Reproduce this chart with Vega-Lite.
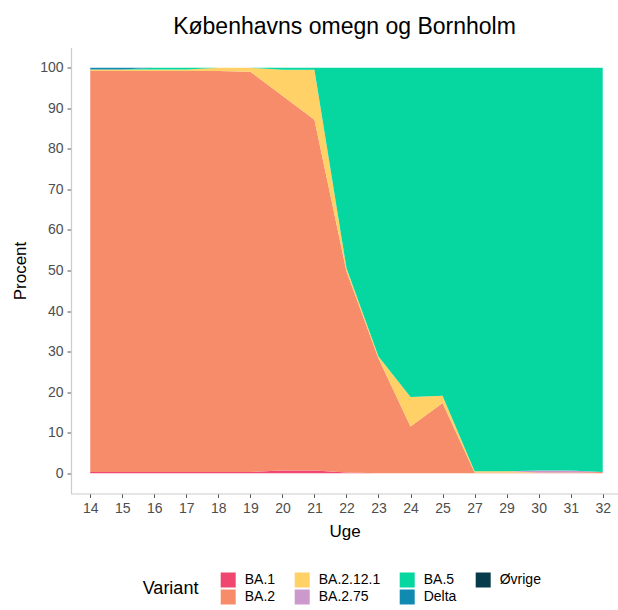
{
  "$schema": "https://vega.github.io/schema/vega-lite/v6.json",
  "width": 547,
  "height": 446,
  "autosize": {"type": "none"},
  "padding": {"left": 71, "top": 47.5, "right": 0, "bottom": 116.5},
  "background": "white",
  "title": {"text": "Københavns omegn og Bornholm", "font": "Liberation Sans", "fontSize": 23, "fontWeight": "normal", "color": "#000000", "anchor": "middle", "offset": 9},
  "data": {"values": [
    {"Uge":14,"Variant":"BA.1","Procent":0.3},{"Uge":14,"Variant":"BA.2","Procent":98.9},{"Uge":14,"Variant":"BA.2.12.1","Procent":0.4},{"Uge":14,"Variant":"BA.2.75","Procent":0},{"Uge":14,"Variant":"BA.5","Procent":0},{"Uge":14,"Variant":"Delta","Procent":0.4},{"Uge":14,"Variant":"Øvrige","Procent":0},
    {"Uge":15,"Variant":"BA.1","Procent":0.3},{"Uge":15,"Variant":"BA.2","Procent":98.9},{"Uge":15,"Variant":"BA.2.12.1","Procent":0.4},{"Uge":15,"Variant":"BA.2.75","Procent":0},{"Uge":15,"Variant":"BA.5","Procent":0},{"Uge":15,"Variant":"Delta","Procent":0.4},{"Uge":15,"Variant":"Øvrige","Procent":0},
    {"Uge":16,"Variant":"BA.1","Procent":0.3},{"Uge":16,"Variant":"BA.2","Procent":98.9},{"Uge":16,"Variant":"BA.2.12.1","Procent":0.4},{"Uge":16,"Variant":"BA.2.75","Procent":0},{"Uge":16,"Variant":"BA.5","Procent":0.4},{"Uge":16,"Variant":"Delta","Procent":0},{"Uge":16,"Variant":"Øvrige","Procent":0},
    {"Uge":17,"Variant":"BA.1","Procent":0.3},{"Uge":17,"Variant":"BA.2","Procent":98.9},{"Uge":17,"Variant":"BA.2.12.1","Procent":0.4},{"Uge":17,"Variant":"BA.2.75","Procent":0},{"Uge":17,"Variant":"BA.5","Procent":0.4},{"Uge":17,"Variant":"Delta","Procent":0},{"Uge":17,"Variant":"Øvrige","Procent":0},
    {"Uge":18,"Variant":"BA.1","Procent":0.3},{"Uge":18,"Variant":"BA.2","Procent":98.9},{"Uge":18,"Variant":"BA.2.12.1","Procent":0.8},{"Uge":18,"Variant":"BA.2.75","Procent":0},{"Uge":18,"Variant":"BA.5","Procent":0},{"Uge":18,"Variant":"Delta","Procent":0},{"Uge":18,"Variant":"Øvrige","Procent":0},
    {"Uge":19,"Variant":"BA.1","Procent":0.3},{"Uge":19,"Variant":"BA.2","Procent":98.7},{"Uge":19,"Variant":"BA.2.12.1","Procent":1.0},{"Uge":19,"Variant":"BA.2.75","Procent":0},{"Uge":19,"Variant":"BA.5","Procent":0},{"Uge":19,"Variant":"Delta","Procent":0},{"Uge":19,"Variant":"Øvrige","Procent":0},
    {"Uge":20,"Variant":"BA.1","Procent":0.7},{"Uge":20,"Variant":"BA.2","Procent":92.4},{"Uge":20,"Variant":"BA.2.12.1","Procent":6.4},{"Uge":20,"Variant":"BA.2.75","Procent":0},{"Uge":20,"Variant":"BA.5","Procent":0.5},{"Uge":20,"Variant":"Delta","Procent":0},{"Uge":20,"Variant":"Øvrige","Procent":0},
    {"Uge":21,"Variant":"BA.1","Procent":0.7},{"Uge":21,"Variant":"BA.2","Procent":86.5},{"Uge":21,"Variant":"BA.2.12.1","Procent":12.3},{"Uge":21,"Variant":"BA.2.75","Procent":0},{"Uge":21,"Variant":"BA.5","Procent":0.5},{"Uge":21,"Variant":"Delta","Procent":0},{"Uge":21,"Variant":"Øvrige","Procent":0},
    {"Uge":22,"Variant":"BA.1","Procent":0.2},{"Uge":22,"Variant":"BA.2","Procent":49.6},{"Uge":22,"Variant":"BA.2.12.1","Procent":0.8},{"Uge":22,"Variant":"BA.2.75","Procent":0},{"Uge":22,"Variant":"BA.5","Procent":49.4},{"Uge":22,"Variant":"Delta","Procent":0},{"Uge":22,"Variant":"Øvrige","Procent":0},
    {"Uge":23,"Variant":"BA.1","Procent":0},{"Uge":23,"Variant":"BA.2","Procent":28.3},{"Uge":23,"Variant":"BA.2.12.1","Procent":0.5},{"Uge":23,"Variant":"BA.2.75","Procent":0},{"Uge":23,"Variant":"BA.5","Procent":71.2},{"Uge":23,"Variant":"Delta","Procent":0},{"Uge":23,"Variant":"Øvrige","Procent":0},
    {"Uge":24,"Variant":"BA.1","Procent":0},{"Uge":24,"Variant":"BA.2","Procent":11.5},{"Uge":24,"Variant":"BA.2.12.1","Procent":7.3},{"Uge":24,"Variant":"BA.2.75","Procent":0},{"Uge":24,"Variant":"BA.5","Procent":81.2},{"Uge":24,"Variant":"Delta","Procent":0},{"Uge":24,"Variant":"Øvrige","Procent":0},
    {"Uge":25,"Variant":"BA.1","Procent":0},{"Uge":25,"Variant":"BA.2","Procent":17.3},{"Uge":25,"Variant":"BA.2.12.1","Procent":1.8},{"Uge":25,"Variant":"BA.2.75","Procent":0},{"Uge":25,"Variant":"BA.5","Procent":80.9},{"Uge":25,"Variant":"Delta","Procent":0},{"Uge":25,"Variant":"Øvrige","Procent":0},
    {"Uge":27,"Variant":"BA.1","Procent":0},{"Uge":27,"Variant":"BA.2","Procent":0.2},{"Uge":27,"Variant":"BA.2.12.1","Procent":0.3},{"Uge":27,"Variant":"BA.2.75","Procent":0},{"Uge":27,"Variant":"BA.5","Procent":99.5},{"Uge":27,"Variant":"Delta","Procent":0},{"Uge":27,"Variant":"Øvrige","Procent":0},
    {"Uge":29,"Variant":"BA.1","Procent":0},{"Uge":29,"Variant":"BA.2","Procent":0.2},{"Uge":29,"Variant":"BA.2.12.1","Procent":0.3},{"Uge":29,"Variant":"BA.2.75","Procent":0},{"Uge":29,"Variant":"BA.5","Procent":99.5},{"Uge":29,"Variant":"Delta","Procent":0},{"Uge":29,"Variant":"Øvrige","Procent":0},
    {"Uge":30,"Variant":"BA.1","Procent":0},{"Uge":30,"Variant":"BA.2","Procent":0.2},{"Uge":30,"Variant":"BA.2.12.1","Procent":0},{"Uge":30,"Variant":"BA.2.75","Procent":0.5},{"Uge":30,"Variant":"BA.5","Procent":99.3},{"Uge":30,"Variant":"Delta","Procent":0},{"Uge":30,"Variant":"Øvrige","Procent":0},
    {"Uge":31,"Variant":"BA.1","Procent":0},{"Uge":31,"Variant":"BA.2","Procent":0.2},{"Uge":31,"Variant":"BA.2.12.1","Procent":0},{"Uge":31,"Variant":"BA.2.75","Procent":0.5},{"Uge":31,"Variant":"BA.5","Procent":99.3},{"Uge":31,"Variant":"Delta","Procent":0},{"Uge":31,"Variant":"Øvrige","Procent":0},
    {"Uge":32,"Variant":"BA.1","Procent":0},{"Uge":32,"Variant":"BA.2","Procent":0.3},{"Uge":32,"Variant":"BA.2.12.1","Procent":0},{"Uge":32,"Variant":"BA.2.75","Procent":0},{"Uge":32,"Variant":"BA.5","Procent":99.7},{"Uge":32,"Variant":"Delta","Procent":0},{"Uge":32,"Variant":"Øvrige","Procent":0}
  ]},
  "mark": {"type": "area", "interpolate": "linear", "opacity": 1},
  "encoding": {
    "x": {
      "field": "Uge", "type": "ordinal",
      "scale": {"type": "point", "padding": 0.539, "align": 0.557},
      "axis": {"title": "Uge", "labelAngle": 0, "labelPadding": 4, "titlePadding": 8}
    },
    "y": {
      "field": "Procent", "type": "quantitative", "stack": "zero",
      "scale": {"domain": [-5, 105], "nice": false, "zero": false},
      "axis": {"title": "Procent", "values": [0, 10, 20, 30, 40, 50, 60, 70, 80, 90, 100], "grid": false, "labelPadding": 4, "titlePadding": 10}
    },
    "color": {
      "field": "Variant", "type": "nominal",
      "scale": {
        "domain": ["BA.1", "BA.2.12.1", "BA.5", "Øvrige", "BA.2", "BA.2.75", "Delta"],
        "range": ["#EF476F", "#FFD166", "#06D6A0", "#073B4C", "#F78C6B", "#CC99CC", "#118AB2"]
      },
      "legend": {
        "title": "Variant",
        "orient": "none", "legendX": 71.7, "legendY": 525,
        "direction": "horizontal", "columns": 4,
        "titleOrient": "left", "titleFontSize": 18, "titleFontWeight": "normal", "titleColor": "#000000", "titlePadding": 22, "titleAnchor": "middle", "titleBaseline": "middle",
        "symbolType": "square", "symbolSize": 225, "symbolStrokeWidth": 0, "symbolOpacity": 1,
        "labelFontSize": 14, "labelColor": "#000000", "labelOffset": 9, "columnPadding": 19, "rowPadding": 2, "padding": 0
      }
    },
    "order": {"field": "Variant", "sort": "ascending"}
  },
  "config": {
    "font": "Liberation Sans",
    "view": {"stroke": null},
    "axis": {
      "domainColor": "#cccccc", "domainWidth": 1.2,
      "tickColor": "#555555", "tickSize": 4, "tickWidth": 1,
      "labelFont": "Liberation Sans", "labelFontSize": 14, "labelColor": "#4d4d4d",
      "titleFont": "Liberation Sans", "titleFontSize": 17, "titleFontWeight": "normal", "titleColor": "#000000"
    },
    "legend": {"labelFont": "Liberation Sans", "titleFont": "Liberation Sans"}
  }
}
